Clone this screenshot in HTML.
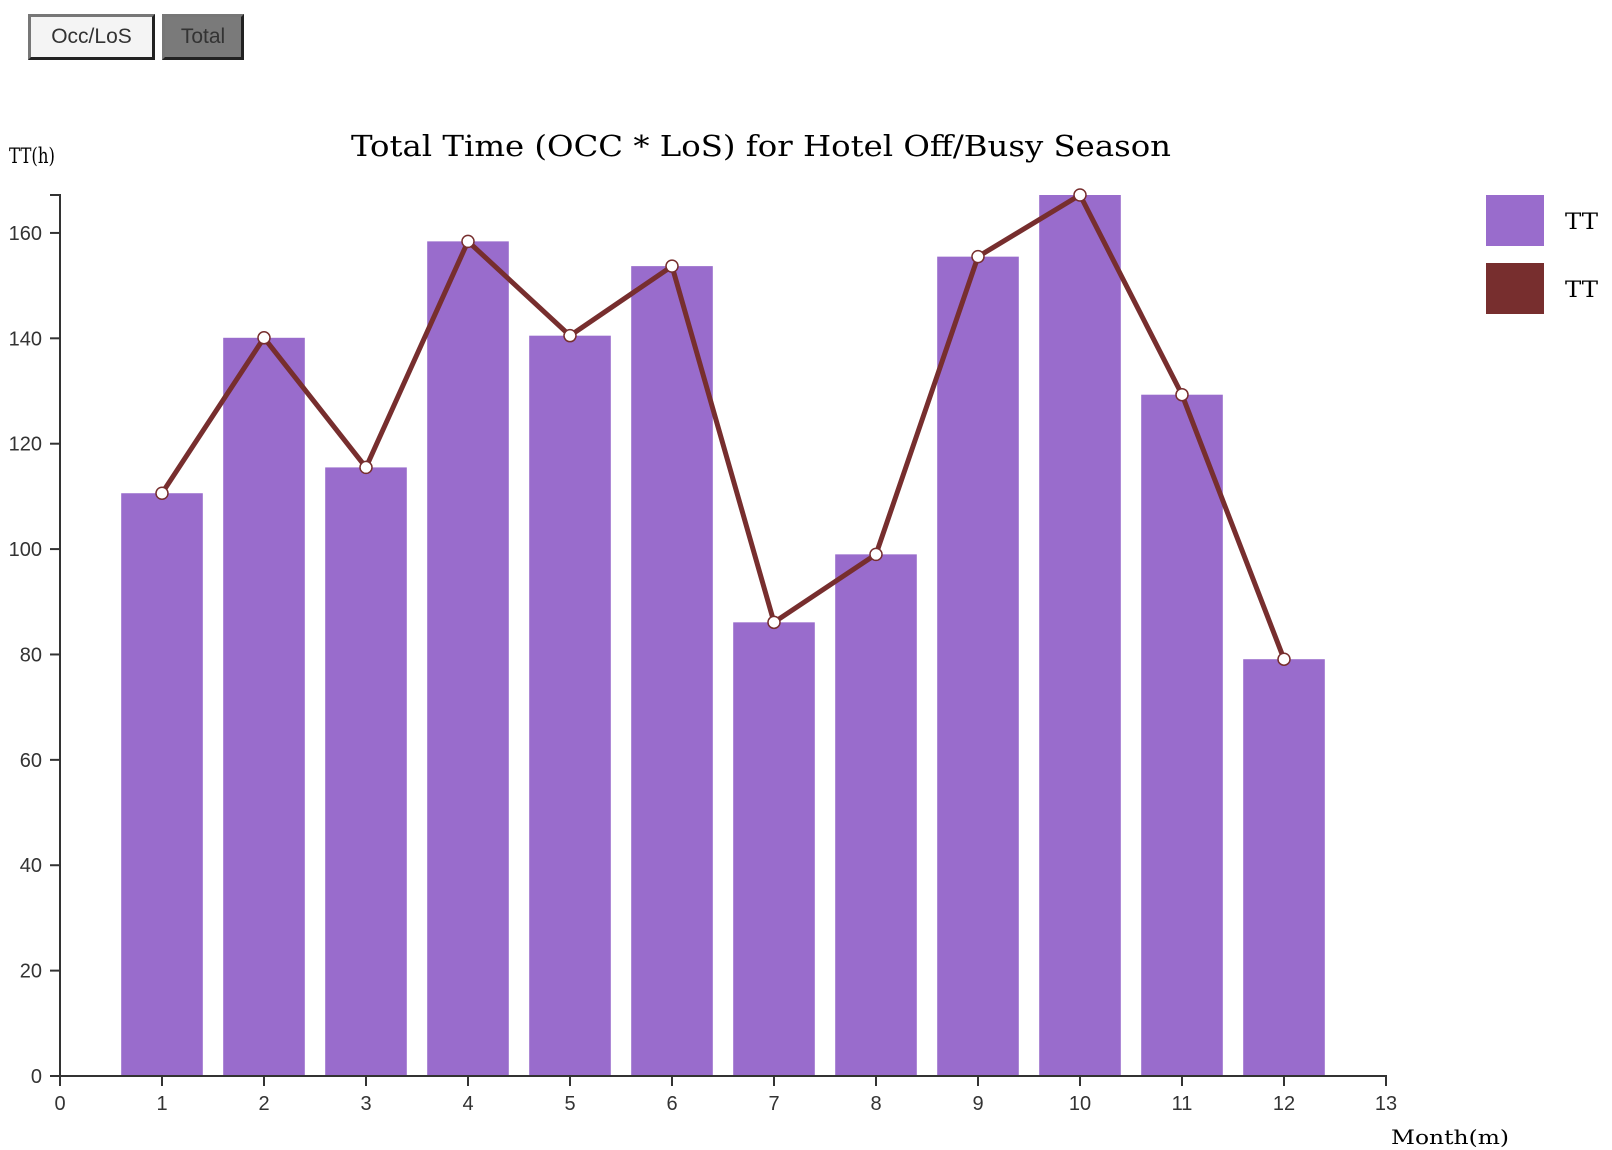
<!DOCTYPE html>
<html><head><meta charset="utf-8"><style>
body{margin:0;background:#fff;width:1612px;height:1150px;overflow:hidden;position:relative;font-family:"Liberation Sans",sans-serif}
.btn{position:absolute;top:14px;height:46px;box-sizing:border-box;border:3px solid;border-color:#777 #222 #222 #777;font-size:21px;color:#333;text-align:center;line-height:40px}
</style></head><body>
<div class="btn" style="left:28px;width:127px;background:#f4f4f4">Occ/LoS</div>
<div class="btn" style="left:162px;width:82px;background:#7a7a7a">Total</div>
<svg id="chart" width="1612" height="1150" style="position:absolute;left:0;top:0"></svg>
<script>
const months=[1,2,3,4,5,6,7,8,9,10,11,12];
const ttValues=[110.6,140.1,115.5,158.4,140.5,153.7,86.1,99.0,155.5,167.2,129.3,79.1];
const xTicks=[0,1,2,3,4,5,6,7,8,9,10,11,12,13];
const yTicks=[0,20,40,60,80,100,120,140,160];
const NS="http://www.w3.org/2000/svg";
const svg=document.getElementById('chart');
const x0=60,x1=1386,y0=1076,yTop=195;
const yMax=Math.max(...ttValues);
const X=v=>x0+(x1-x0)*v/13;
const Y=v=>y0-(y0-yTop)*v/yMax;
function mk(t,a,p){const e=document.createElementNS(NS,t);for(const k in a)e.setAttribute(k,a[k]);(p||svg).appendChild(e);return e;}
const bw=(X(1)-X(0))*0.8;
months.forEach((m,i)=>{
 const r=mk('rect',{x:X(m)-bw/2,y:Y(ttValues[i]),width:bw,height:y0-Y(ttValues[i]),fill:'#996ccc'});
 
 
});
const pl=mk('polyline',{points:months.map((m,i)=>X(m)+','+Y(ttValues[i])).join(' '),fill:'none',stroke:'#772e2e','stroke-width':5,'stroke-linejoin':'round'});


months.forEach((m,i)=>{
 const c=mk('circle',{cx:X(m),cy:Y(ttValues[i]),r:6,fill:'#fff',stroke:'#772e2e','stroke-width':1.5});
 
 
});
const ax={stroke:'#333','stroke-width':2,fill:'none'};
const ya=mk('path',Object.assign({d:`M${x0-10},${yTop}H${x0}V${y0}`},ax));


const xa=mk('path',Object.assign({d:`M${x0},${y0+10}V${y0}H${x1}V${y0+10}`},ax));


yTicks.forEach(v=>{
 mk('line',{x1:x0-10,x2:x0,y1:Y(v),y2:Y(v),stroke:'#333','stroke-width':2});
 const t=mk('text',{x:x0-18,y:Y(v)+7,'text-anchor':'end','font-size':20,fill:'#333','font-family':'Liberation Sans,sans-serif'});
 t.textContent=v;
 
 
});
xTicks.forEach(v=>{
 mk('line',{x1:X(v),x2:X(v),y1:y0,y2:y0+10,stroke:'#333','stroke-width':2});
 const t=mk('text',{x:X(v),y:y0+34,'text-anchor':'middle','font-size':20,fill:'#333','font-family':'Liberation Sans,sans-serif'});
 t.textContent=v;
 
 
});
function txt(s,a,name){const t=mk('text',Object.assign({'font-family':'DejaVu Serif,serif',fill:'#000'},a));t.textContent=s;return t;}
txt('Total Time (OCC * LoS) for Hotel Off/Busy Season',{x:351,y:156,'font-size':29,textLength:820,lengthAdjust:'spacingAndGlyphs'},'chart-title');
txt('TT(h)',{x:9,y:163,'font-size':21,textLength:46,lengthAdjust:'spacingAndGlyphs'},'y-axis-title');
txt('Month(m)',{x:1391,y:1144,'font-size':20,textLength:118,lengthAdjust:'spacingAndGlyphs'},'x-axis-title');
const l1=mk('rect',{x:1486,y:195,width:58,height:51,fill:'#996ccc'});


const l2=mk('rect',{x:1486,y:263,width:58,height:51,fill:'#772e2e'});


txt('TT',{x:1565,y:229,'font-size':22,textLength:33,lengthAdjust:'spacingAndGlyphs'},'legend-label-bar');
txt('TT',{x:1565,y:297,'font-size':22,textLength:33,lengthAdjust:'spacingAndGlyphs'},'legend-label-line');
</script>
</body></html>
